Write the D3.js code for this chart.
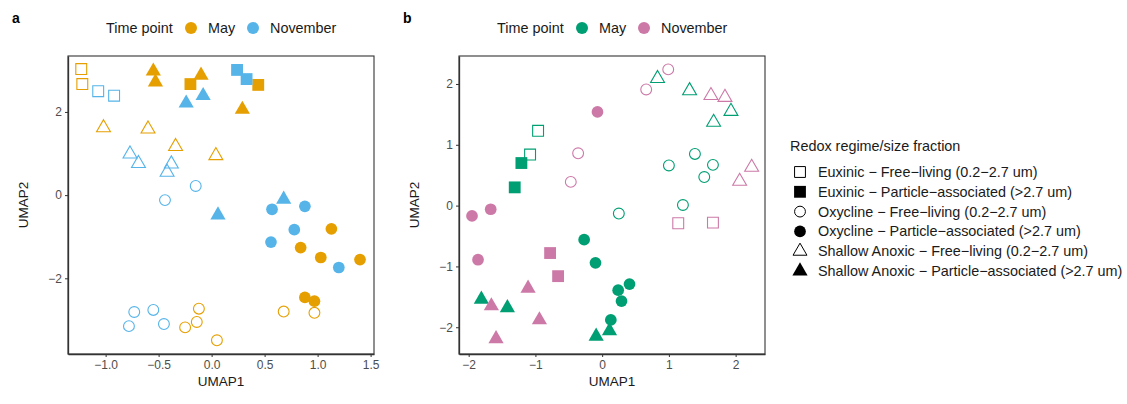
<!DOCTYPE html>
<html lang="en">
<head>
<meta charset="UTF-8">
<title>UMAP</title>
<script src="https://cdn.jsdelivr.net/npm/d3@7"></script>
<style>
  body { margin: 0; background: #fff; }
  text { font-family: "Liberation Sans", Arial, Helvetica, sans-serif; }
</style>
</head>
<body>
<svg id="chart" width="1127" height="404"></svg>
<script>
// categories
var timePoints = ["May", "November"];
var typeLabels = [
  "Euxinic \u2212 Free\u2212living (0.2\u22122.7 um)",
  "Euxinic \u2212 Particle\u2212associated (>2.7 um)",
  "Oxycline \u2212 Free\u2212living (0.2\u22122.7 um)",
  "Oxycline \u2212 Particle\u2212associated (>2.7 um)",
  "Shallow Anoxic \u2212 Free\u2212living (0.2\u22122.7 um)",
  "Shallow Anoxic \u2212 Particle\u2212associated (>2.7 um)"
];
var colorsA = ["#E69F00", "#56B4E9"];
var colorsB = ["#009E73", "#CC79A7"];

// tick values
var xTicksA = [-1, -0.5, 0, 0.5, 1, 1.5];
var yTicksA = [-2, 0, 2];
var xTicksB = [-2, -1, 0, 1, 2];
var yTicksB = [-2, -1, 0, 1, 2];

// points: [UMAP1, UMAP2, time point index, type index]
var pointsA = [
  [-1.23, 3.03, 0, 0], [-1.22, 2.67, 0, 0],
  [-1.07, 2.50, 1, 0], [-0.92, 2.39, 1, 0],
  [-0.55, 2.98, 0, 5], [-0.53, 2.72, 0, 5], [-0.10, 2.88, 0, 5], [0.29, 2.06, 0, 5],
  [-0.20, 2.67, 0, 1], [0.44, 2.65, 0, 1],
  [0.24, 3.01, 1, 1], [0.33, 2.79, 1, 1],
  [-0.24, 2.21, 1, 5], [-0.08, 2.39, 1, 5], [0.06, -0.48, 1, 5], [0.68, -0.10, 1, 5],
  [-1.02, 1.62, 0, 4], [-0.60, 1.59, 0, 4], [-0.34, 1.17, 0, 4], [0.04, 0.95, 0, 4],
  [-0.77, 0.99, 1, 4], [-0.69, 0.76, 1, 4], [-0.38, 0.75, 1, 4], [-0.42, 0.55, 1, 4],
  [-0.15, 0.22, 1, 2], [-0.44, -0.12, 1, 2],
  [0.57, -0.34, 1, 3], [0.88, -0.27, 1, 3], [0.78, -0.83, 1, 3], [0.56, -1.13, 1, 3], [1.20, -1.74, 1, 3],
  [1.13, -0.81, 0, 3], [0.84, -1.26, 0, 3], [1.03, -1.50, 0, 3], [1.40, -1.55, 0, 3], [0.88, -2.46, 0, 3], [0.97, -2.55, 0, 3],
  [-0.73, -2.81, 1, 2], [-0.55, -2.76, 1, 2], [-0.78, -3.15, 1, 2], [-0.45, -3.10, 1, 2],
  [-0.12, -2.73, 0, 2], [-0.14, -3.05, 0, 2], [-0.25, -3.18, 0, 2], [0.05, -3.49, 0, 2], [0.68, -2.80, 0, 2], [0.97, -2.83, 0, 2]
];

var pointsB = [
  [0.99, 2.24, 1, 2], [0.66, 1.91, 1, 2], [-0.36, 0.86, 1, 2], [-0.47, 0.39, 1, 2],
  [0.83, 2.09, 0, 4], [1.31, 1.89, 0, 4], [1.93, 1.55, 0, 4], [1.67, 1.37, 0, 4],
  [1.63, 1.81, 1, 4], [1.84, 1.78, 1, 4], [2.24, 0.63, 1, 4], [2.06, 0.40, 1, 4],
  [-0.07, 1.54, 1, 3],
  [-0.96, 1.23, 0, 0], [-1.08, 0.84, 0, 0],
  [-1.21, 0.70, 0, 1], [-1.31, 0.30, 0, 1],
  [1.00, 0.66, 0, 2], [1.39, 0.85, 0, 2], [1.66, 0.67, 0, 2], [1.53, 0.47, 0, 2], [1.21, 0.01, 0, 2], [0.25, -0.13, 0, 2],
  [-1.67, -0.06, 1, 3], [-1.95, -0.17, 1, 3], [-1.86, -0.89, 1, 3],
  [1.14, -0.29, 1, 0], [1.66, -0.28, 1, 0],
  [-0.27, -0.56, 0, 3], [-0.10, -0.94, 0, 3], [0.24, -1.39, 0, 3], [0.41, -1.29, 0, 3], [0.29, -1.57, 0, 3], [0.13, -1.88, 0, 3],
  [-0.78, -0.78, 1, 1], [-0.66, -1.16, 1, 1],
  [-1.81, -1.54, 0, 5], [-1.42, -1.68, 0, 5], [-0.09, -2.15, 0, 5], [0.11, -2.06, 0, 5],
  [-1.66, -1.65, 1, 5], [-1.11, -1.36, 1, 5], [-0.94, -1.88, 1, 5], [-1.59, -2.19, 1, 5]
];

var svg = d3.select("#chart");
var ink = "#333333", tickInk = "#4D4D4D";

// shape for each type: symbol + filled or not
var shapeSyms = [d3.symbolSquare, d3.symbolSquare, d3.symbolCircle, d3.symbolCircle, d3.symbolTriangle, d3.symbolTriangle];
var shapeFilled = [false, true, false, true, false, true];
var shapeSize = [118, 140, 92, 108, 84, 100];

function symPath(t) {
  return d3.symbol().type(shapeSyms[t]).size(shapeSize[t])();
}

function drawPanel(opt) {
  var x = d3.scaleLinear().domain(opt.xDomain).range([opt.left, opt.right]);
  var y = d3.scaleLinear().domain(opt.yDomain).range([opt.bottom, opt.top]);
  var g = svg.append("g");

  g.append("rect")
    .attr("x", opt.left).attr("y", opt.top)
    .attr("width", opt.right - opt.left).attr("height", opt.bottom - opt.top)
    .attr("fill", "none").attr("stroke", ink).attr("stroke-width", 1.1);

  var xAxis = g.append("g")
    .attr("transform", "translate(0," + opt.bottom + ")")
    .call(d3.axisBottom(x).tickValues(opt.xTicks).tickSize(3).tickSizeOuter(0).tickPadding(3).tickFormat(opt.xFmt));
  var yAxis = g.append("g")
    .attr("transform", "translate(" + opt.left + ",0)")
    .call(d3.axisLeft(y).tickValues(opt.yTicks).tickSize(3).tickSizeOuter(0).tickPadding(3).tickFormat(opt.yFmt));
  [xAxis, yAxis].forEach(function(a) {
    a.select(".domain").attr("stroke", ink).attr("stroke-width", 1.3);
    a.selectAll(".tick line").attr("stroke", ink);
    a.selectAll(".tick text").attr("fill", tickInk).style("font-size", "12px");
  });

  g.selectAll("path.pt")
    .data(opt.points)
    .enter()
    .append("path")
    .attr("class", "pt")
    .attr("d", function(d) { return symPath(d[3]); })
    .attr("transform", function(d) { return "translate(" + x(d[0]) + "," + y(d[1]) + ")"; })
    .attr("fill", function(d) { return shapeFilled[d[3]] ? opt.colors[d[2]] : "none"; })
    .attr("stroke", function(d) { return shapeFilled[d[3]] ? "none" : opt.colors[d[2]]; })
    .attr("stroke-width", 1.1);

  var cx = (opt.left + opt.right) / 2;
  g.append("text").attr("x", cx).attr("y", 386).attr("text-anchor", "middle")
    .style("font-size", "13.5px").attr("fill", "#1a1a1a").text("UMAP1");
  g.append("text")
    .attr("transform", "translate(" + (opt.left - 40) + "," + ((opt.top + opt.bottom) / 2) + ") rotate(-90)")
    .attr("text-anchor", "middle").style("font-size", "13.5px").attr("fill", "#1a1a1a").text("UMAP2");

  // panel letter
  g.append("text").attr("x", opt.letterX).attr("y", 23)
    .style("font-size", "14px").style("font-weight", "bold").text(opt.letter);

  // time point legend
  var lg = g.append("g").attr("transform", "translate(" + opt.legendX + ",0)");
  lg.append("text").attr("x", 0).attr("y", 33).style("font-size", "14.4px").attr("fill", "#1a1a1a").text("Time point");
  var pos = [[85, 102], [147, 164]];
  timePoints.forEach(function(tp, i) {
    lg.append("circle").attr("cx", pos[i][0]).attr("cy", 28).attr("r", 6).attr("fill", opt.colors[i]);
    lg.append("text").attr("x", pos[i][1]).attr("y", 33).style("font-size", "14.4px").attr("fill", "#1a1a1a").text(tp);
  });
}

drawPanel({
  left: 68, right: 374, top: 56, bottom: 354,
  xDomain: [-1.355, 1.532], yDomain: [-3.82, 3.345],
  xTicks: xTicksA, yTicks: yTicksA,
  xFmt: d3.format(".1f"), yFmt: d3.format("d"),
  points: pointsA, colors: colorsA,
  letter: "a", letterX: 12, legendX: 106
});

drawPanel({
  left: 459, right: 765, top: 56, bottom: 354,
  xDomain: [-2.145, 2.44], yDomain: [-2.44, 2.46],
  xTicks: xTicksB, yTicks: yTicksB,
  xFmt: d3.format("d"), yFmt: d3.format("d"),
  points: pointsB, colors: colorsB,
  letter: "b", letterX: 403, legendX: 497
});

// shape legend
var leg = svg.append("g").attr("transform", "translate(790,0)");
leg.append("text").attr("x", 0).attr("y", 151).style("font-size", "14.4px").attr("fill", "#1a1a1a")
  .text("Redox regime/size fraction");
typeLabels.forEach(function(lab, i) {
  var yy = 172 + i * 19.8;
  leg.append("path")
    .attr("d", symPath(i))
    .attr("transform", "translate(10," + yy + ")")
    .attr("fill", shapeFilled[i] ? "#000" : "none")
    .attr("stroke", shapeFilled[i] ? "none" : "#000")
    .attr("stroke-width", 1);
  leg.append("text").attr("x", 28).attr("y", yy + 5).style("font-size", "14.4px").attr("fill", "#1a1a1a").text(lab);
});
</script>
</body>
</html>
